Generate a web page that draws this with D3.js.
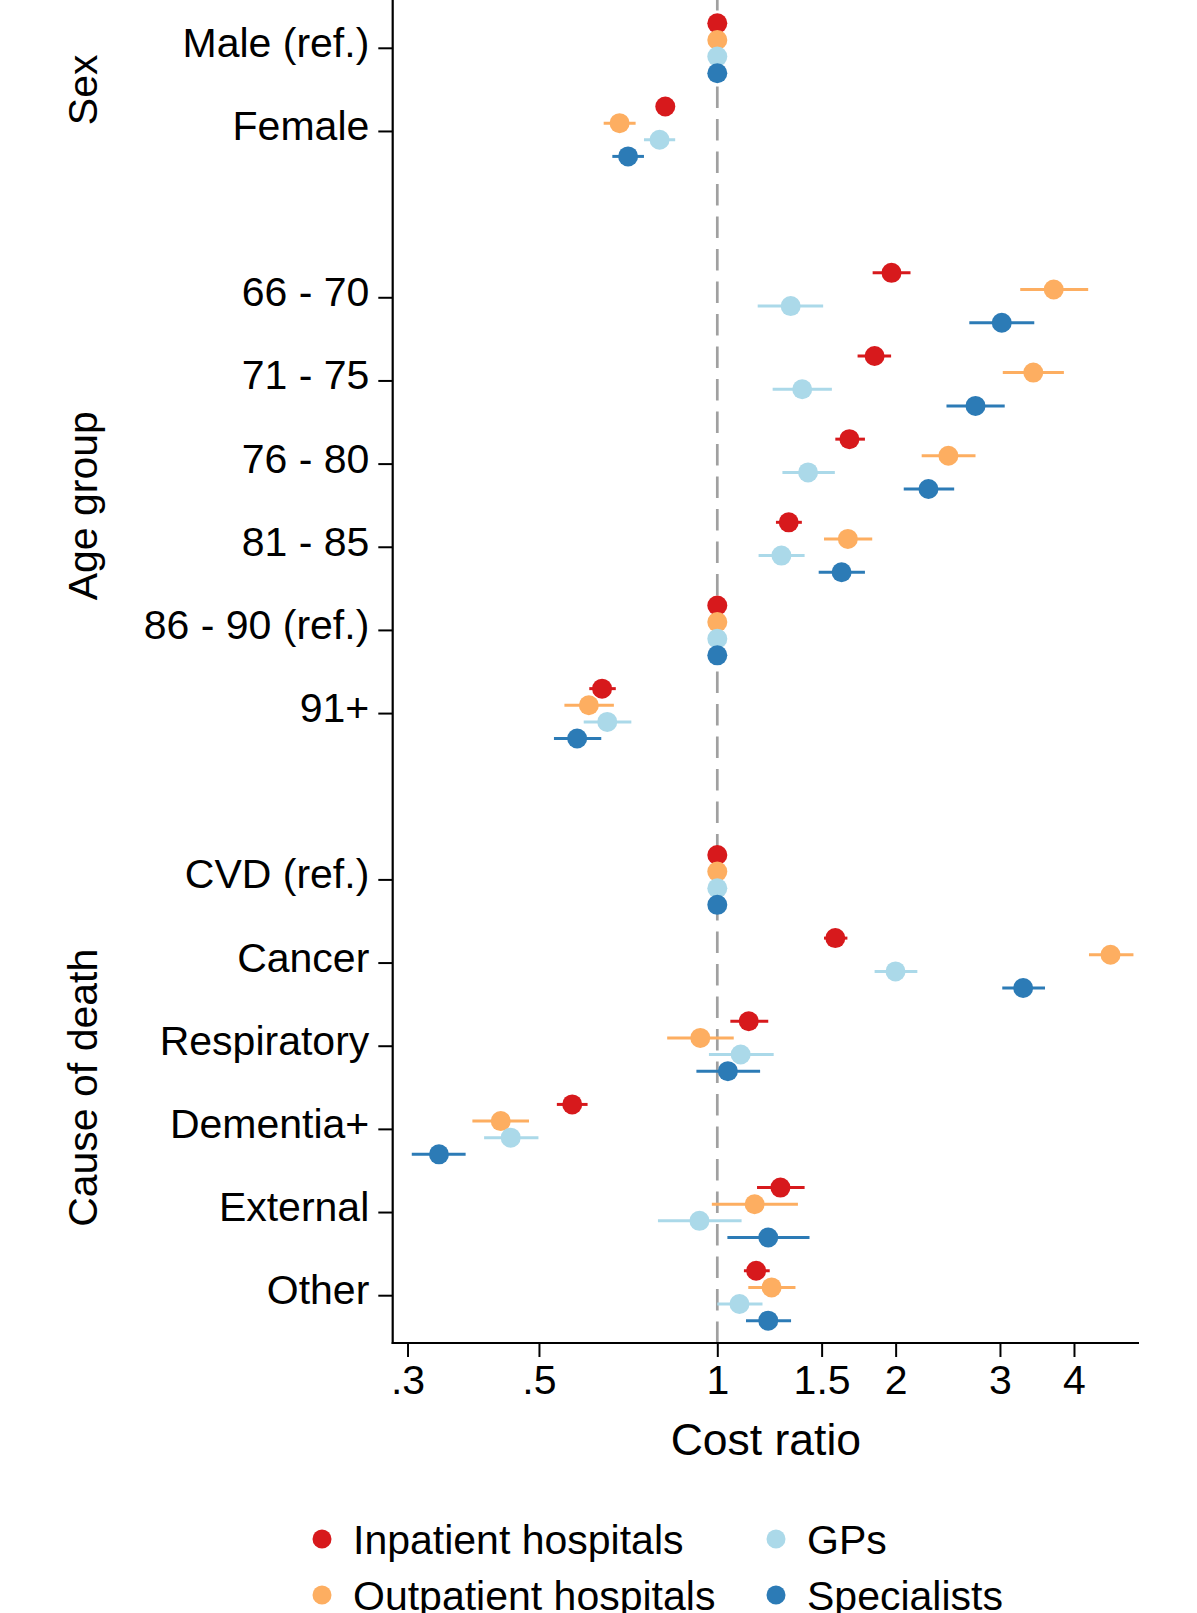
<!DOCTYPE html>
<html>
<head>
<meta charset="utf-8">
<script src="https://cdn.jsdelivr.net/npm/d3@7"></script>
<style>
  html, body { margin: 0; padding: 0; background: #fff; }
  svg { display: block; }
  text { font-family: "Liberation Sans", Arial, Helvetica, sans-serif; fill: #000; }
</style>
</head>
<body>
<svg id="chart" width="1197" height="1613"></svg>
<script>
// ---- data ----
const categories = ["Male (ref.)", "Female", "66 - 70", "71 - 75", "76 - 80", "81 - 85", "86 - 90 (ref.)", "91+",
                    "CVD (ref.)", "Cancer", "Respiratory", "Dementia+", "External", "Other"];
const categoryGroup = [0, 0, 1, 1, 1, 1, 1, 1, 2, 2, 2, 2, 2, 2];
const groups = ["Sex", "Age group", "Cause of death"];
const seriesNames = ["Inpatient hospitals", "Outpatient hospitals", "GPs", "Specialists"];
const seriesColors = ["#d7191c", "#fdae61", "#abd9e9", "#2c7bb6"];

const inpatientEst = [1, 0.817, 1.968, 1.843, 1.671, 1.320, 1, 0.639, 1, 1.582, 1.130, 0.569, 1.278, 1.163];
const inpatientLo  = [1, 0.800, 1.829, 1.725, 1.582, 1.256, 1, 0.608, 1, 1.514, 1.052, 0.536, 1.167, 1.109];
const inpatientHi  = [1, 0.835, 2.119, 1.965, 1.775, 1.389, 1, 0.674, 1, 1.658, 1.219, 0.604, 1.404, 1.226];

const outpatientEst = [1, 0.684, 3.697, 3.415, 2.455, 1.661, 1, 0.607, 1, 4.610, 0.936, 0.431, 1.156, 1.235];
const outpatientLo  = [1, 0.643, 3.246, 3.033, 2.213, 1.514, 1, 0.552, 1, 4.240, 0.823, 0.386, 0.979, 1.128];
const outpatientHi  = [1, 0.728, 4.227, 3.846, 2.728, 1.826, 1, 0.669, 1, 5.040, 1.066, 0.481, 1.368, 1.355];

const gpEst = [1, 0.799, 1.330, 1.391, 1.423, 1.283, 1, 0.652, 1, 1.999, 1.095, 0.448, 0.933, 1.090];
const gpLo  = [1, 0.752, 1.170, 1.240, 1.288, 1.174, 1, 0.595, 1, 1.843, 0.968, 0.404, 0.794, 1.000];
const gpHi  = [1, 0.849, 1.509, 1.561, 1.579, 1.404, 1, 0.716, 1, 2.176, 1.245, 0.499, 1.099, 1.192];

const specEst = [1, 0.707, 3.021, 2.728, 2.272, 1.621, 1, 0.580, 1, 3.283, 1.042, 0.339, 1.219, 1.219];
const specLo  = [1, 0.665, 2.663, 2.437, 2.064, 1.483, 1, 0.530, 1, 3.027, 0.922, 0.305, 1.040, 1.118];
const specHi  = [1, 0.752, 3.428, 3.056, 2.511, 1.775, 1, 0.637, 1, 3.574, 1.181, 0.376, 1.431, 1.332];

const xTickValues = [0.3, 0.5, 1, 1.5, 2, 3, 4];
const xTickLabels = [".3", ".5", "1", "1.5", "2", "3", "4"];
const xTitle = "Cost ratio";

// ---- build ----
const seriesData = [
  { est: inpatientEst, lo: inpatientLo, hi: inpatientHi },
  { est: outpatientEst, lo: outpatientLo, hi: outpatientHi },
  { est: gpEst, lo: gpLo, hi: gpHi },
  { est: specEst, lo: specLo, hi: specHi }
].map((s, i) => ({ ...s, name: seriesNames[i], color: seriesColors[i] }));

const svg = d3.select("#chart");
const FONT = 41;

const plotLeft = 392.7, plotRight = 1139, axisY = 1343, plotTop = 0;
const x = d3.scaleLog().domain([0.2832, 5.15]).range([plotLeft, plotRight]);

// slot index: category index plus one blank slot per preceding group
const slotOf = categories.map((c, i) => i + categoryGroup[i]);
const y = d3.scaleLinear().domain([0, 15]).range([48.3, 1295.7]);
const rowStep = y(1) - y(0);
const offStep = rowStep / 5;
const seriesOffset = i => (i - 1.5) * offStep;

// reference dashed line at 1
svg.append("line")
  .attr("x1", x(1)).attr("x2", x(1))
  .attr("y1", axisY).attr("y2", plotTop)
  .attr("stroke", "#a0a0a0").attr("stroke-width", 2.7)
  .attr("stroke-dasharray", "21.5,11");

// series
seriesData.forEach((s, si) => {
  const g = svg.append("g");
  const rows = categories.map((c, ci) => ({ ci, est: s.est[ci], lo: s.lo[ci], hi: s.hi[ci] }));
  g.selectAll("line.ci").data(rows.filter(d => d.hi > d.lo)).join("line")
    .attr("class", "ci")
    .attr("x1", d => x(d.lo)).attr("x2", d => x(d.hi))
    .attr("y1", d => y(slotOf[d.ci]) + seriesOffset(si))
    .attr("y2", d => y(slotOf[d.ci]) + seriesOffset(si))
    .attr("stroke", s.color).attr("stroke-width", 3);
  g.selectAll("circle").data(rows).join("circle")
    .attr("cx", d => x(d.est))
    .attr("cy", d => y(slotOf[d.ci]) + seriesOffset(si))
    .attr("r", 10)
    .attr("fill", s.color);
});

// y axis
svg.append("line")
  .attr("x1", plotLeft).attr("x2", plotLeft)
  .attr("y1", plotTop).attr("y2", axisY + 1)
  .attr("stroke", "#000").attr("stroke-width", 2.2);

const yTicks = svg.append("g");
categories.forEach((c, i) => {
  const yy = y(slotOf[i]);
  yTicks.append("line")
    .attr("x1", plotLeft - 14.4).attr("x2", plotLeft)
    .attr("y1", yy).attr("y2", yy)
    .attr("stroke", "#000").attr("stroke-width", 2);
  yTicks.append("text")
    .attr("x", plotLeft - 23.4).attr("y", yy + 8.5)
    .attr("text-anchor", "end")
    .attr("font-size", FONT)
    .text(c);
});

// group titles
groups.forEach((gname, gi) => {
  const idx = categories.map((c, i) => i).filter(i => categoryGroup[i] === gi);
  const mid = (y(slotOf[idx[0]]) + y(slotOf[idx[idx.length - 1]])) / 2;
  svg.append("text")
    .attr("transform", `translate(97,${mid}) rotate(-90)`)
    .attr("text-anchor", "middle")
    .attr("font-size", FONT)
    .text(gname);
});

// x axis
const xAxis = d3.axisBottom(x)
  .tickValues(xTickValues)
  .tickFormat((d, i) => xTickLabels[i])
  .tickSize(14)
  .tickSizeOuter(0);
const xg = svg.append("g").attr("transform", `translate(0,${axisY})`).call(xAxis);
xg.select(".domain").attr("stroke", "#000").attr("stroke-width", 2.2)
  .attr("d", `M${plotLeft - 1},0H${plotRight}`);
xg.selectAll(".tick line").attr("stroke", "#000").attr("stroke-width", 2);
xg.selectAll(".tick text")
  .attr("y", 51).attr("dy", 0)
  .attr("font-size", FONT)
  .attr("font-family", "Liberation Sans, Arial, sans-serif")
  .attr("fill", "#000");

svg.append("text")
  .attr("x", (plotLeft + plotRight) / 2).attr("y", 1455)
  .attr("text-anchor", "middle")
  .attr("font-size", 44.5)
  .text(xTitle);

// legend
const legendCols = [322, 776];
const legendRows = [1539, 1595];
const legendOrder = [0, 2, 1, 3]; // row-major: Inpatient, GPs / Outpatient, Specialists
const lg = svg.append("g");
legendOrder.forEach((si, k) => {
  const col = k % 2, row = Math.floor(k / 2);
  lg.append("circle")
    .attr("cx", legendCols[col]).attr("cy", legendRows[row])
    .attr("r", 9.5).attr("fill", seriesData[si].color);
  lg.append("text")
    .attr("x", legendCols[col] + 31).attr("y", legendRows[row] + 14.5)
    .attr("font-size", FONT)
    .text(seriesData[si].name);
});
</script>
</body>
</html>
